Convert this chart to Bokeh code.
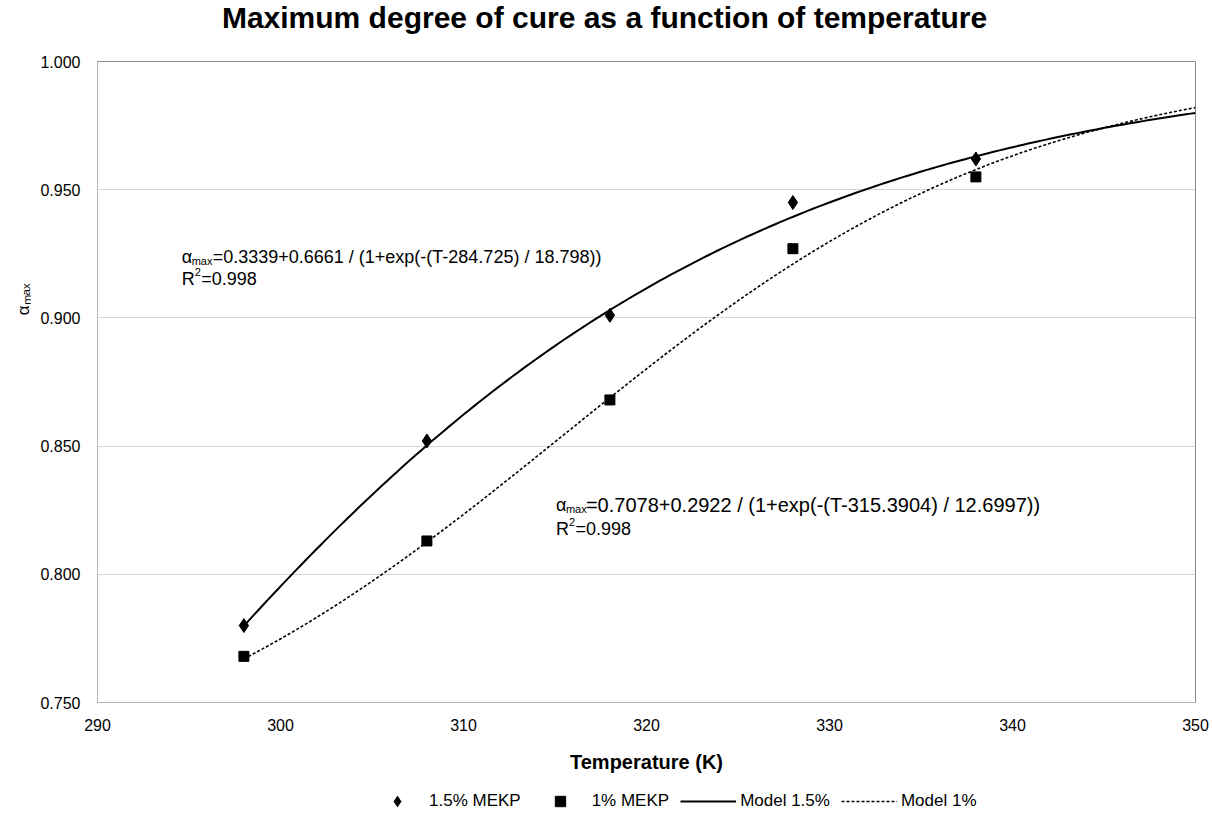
import numpy as np
from bokeh.plotting import figure
from bokeh.layouts import column
from bokeh.models import (Label, Legend, LegendItem, NumeralTickFormatter,
                          FixedTicker, Range1d, ColumnDataSource, Title)
from bokeh.embed import file_html
from bokeh.resources import INLINE

# ---- data ----
temperature = [298, 308, 318, 328, 338]
alpha_15 = [0.780, 0.852, 0.901, 0.945, 0.962]   # 1.5% MEKP
alpha_10 = [0.768, 0.813, 0.868, 0.927, 0.955]   # 1% MEKP

# fitted model parameters printed on the chart: a + b / (1 + exp(-(T - c) / d))
model_15 = [0.3339, 0.6661, 284.725, 18.798]
model_10 = [0.7078, 0.2922, 315.3904, 12.6997]
model_T_span = [298, 350]

x_ticks = [290, 300, 310, 320, 330, 340, 350]
y_ticks = [0.75, 0.80, 0.85, 0.90, 0.95, 1.00]

series_labels = ["1.5% MEKP", "1% MEKP", "Model 1.5%", "Model 1%"]
title_text = "Maximum degree of cure as a function of temperature"
y_label = "\u03b1\u2098\u2090\u2093"
eq_15 = "=0.3339+0.6661 / (1+exp(-(T-284.725) / 18.798))"
eq_10 = "=0.7078+0.2922 / (1+exp(-(T-315.3904) / 12.6997))"
r2_text = "=0.998"

FONT = "Liberation Sans"
W = 1212
H_TITLE, H_MAIN, H_LEG = 40, 740, 35
B_LEFT, B_RIGHT = 97, 17


def model(T, p):
    a, b, c, d = p
    return a + b / (1.0 + np.exp(-(T - c) / d))


T_fine = np.linspace(model_T_span[0], model_T_span[1], 200)
src_pts = ColumnDataSource(dict(T=temperature, a15=alpha_15, a10=alpha_10))
src_mod = ColumnDataSource(dict(T=T_fine, m15=model(T_fine, model_15),
                                m10=model(T_fine, model_10)))


def strip_fig(h, y0=0):
    # x coordinates equal page pixels; no axes, no grid, no title
    f = figure(width=W, height=h, output_backend="svg", toolbar_location=None,
               title=None,
               x_range=Range1d(B_LEFT, W - B_RIGHT), y_range=Range1d(y0, y0 + h),
               x_axis_location=None, y_axis_location=None,
               min_border_left=B_LEFT, min_border_right=B_RIGHT,
               min_border_top=0, min_border_bottom=0)
    f.grid.visible = False
    f.outline_line_color = None
    f.background_fill_color = "white"
    f.border_fill_color = "white"
    return f


# ---------- title strip ----------
pt = strip_fig(H_TITLE)
pt.add_layout(Label(x=604, y=23, text=title_text, text_font=FONT,
                    text_font_size="30px", text_font_style="bold",
                    text_color="black", text_align="center",
                    text_baseline="alphabetic"))

# ---------- main chart ----------
p = figure(width=W, height=H_MAIN, output_backend="svg", toolbar_location=None,
           title=None,
           x_range=Range1d(x_ticks[0], x_ticks[-1]),
           y_range=Range1d(y_ticks[0], y_ticks[-1]),
           min_border_left=B_LEFT, min_border_right=B_RIGHT,
           min_border_top=21, min_border_bottom=78)
p.background_fill_color = "white"
p.border_fill_color = "white"
p.outline_line_color = "#8c8c8c"
p.outline_line_width = 1

p.xaxis.ticker = FixedTicker(ticks=x_ticks)
p.yaxis.ticker = FixedTicker(ticks=y_ticks)
p.yaxis.formatter = NumeralTickFormatter(format="0.000")
for ax in (p.xaxis, p.yaxis):
    ax.major_tick_line_color = None
    ax.minor_tick_line_color = None
    ax.major_tick_out = 0
    ax.major_tick_in = 0
    ax.major_label_text_font = FONT
    ax.major_label_text_font_size = "16px"
    ax.major_label_text_color = "black"
    ax.axis_line_color = "#b5b5b5"
p.yaxis.major_label_standoff = 17
p.xaxis.major_label_standoff = 16
p.xaxis.axis_label = "Temperature (K)"
p.xaxis.axis_label_text_font = FONT
p.xaxis.axis_label_text_font_size = "20px"
p.xaxis.axis_label_text_font_style = "bold"
p.xaxis.axis_label_text_color = "black"
p.xaxis.axis_label_standoff = 17

ytitle = Title(text=y_label, text_font=FONT, text_font_size="17px",
               text_font_style="normal", text_color="black",
               align="right", offset=222, standoff=10)
p.add_layout(ytitle, "left")

p.xgrid.grid_line_color = None
p.ygrid.grid_line_color = "#d4d4d4"
p.ygrid.grid_line_width = 1

STY_M15 = dict(line_color="black", line_width=2)
STY_M10 = dict(line_color="black", line_width=1.6, line_dash="3 2")
STY_P15 = dict(marker="diamond", size=14, fill_color="black",
               line_color="black")
STY_P10 = dict(marker="square", size=10, fill_color="black",
               line_color="black")

p.line("T", "m15", source=src_mod, **STY_M15)
p.line("T", "m10", source=src_mod, **STY_M10)
p.scatter("T", "a15", source=src_pts, **STY_P15)
p.scatter("T", "a10", source=src_pts, **STY_P10)


def lab(x, y, text, xo=0, yo=0, size="18px"):
    p.add_layout(Label(x=x, y=y, x_offset=xo, y_offset=yo, text=text,
                       text_font=FONT, text_font_size=size,
                       text_color="black", text_align="left",
                       text_baseline="alphabetic"))


# equation for 1.5% MEKP
ax1, ay1 = 294.6, 0.9236
lab(ax1, ay1, "\u03b1", xo=0)
lab(ax1, ay1, "max", xo=10, yo=-4, size="11px")
lab(ax1, ay1, eq_15, xo=31)
lab(ax1, ay1, "R", xo=0, yo=-22)
lab(ax1, ay1, "2", xo=13, yo=-15, size="11px")
lab(ax1, ay1, r2_text, xo=19.5, yo=-22)

# equation for 1% MEKP
ax2, ay2 = 315.05, 0.8272
lab(ax2, ay2, "\u03b1", xo=0)
lab(ax2, ay2, "max", xo=10, yo=-4, size="11px")
lab(ax2, ay2, eq_10, xo=30, size="20px")
lab(ax2, ay2, "R", xo=0, yo=-24)
lab(ax2, ay2, "2", xo=13, yo=-17, size="11px")
lab(ax2, ay2, r2_text, xo=19.5, yo=-24)

# ---------- legend strip ----------
# the series are drawn here too, but outside this strip's visible y window,
# so only their legend glyphs show
pl = strip_fig(H_LEG, y0=100)
g15 = pl.scatter("T", "a15", source=src_pts, **STY_P15)
g10 = pl.scatter("T", "a10", source=src_pts, **STY_P10)
gm15 = pl.line("T", "m15", source=src_mod, **STY_M15)
gm10 = pl.line("T", "m10", source=src_mod, **STY_M10)
legend = Legend(items=[
    LegendItem(label=series_labels[0], renderers=[g15]),
    LegendItem(label=series_labels[1], renderers=[g10]),
    LegendItem(label=series_labels[2], renderers=[gm15]),
    LegendItem(label=series_labels[3], renderers=[gm10]),
], orientation="horizontal", location=(272, 1))
legend.glyph_width = 56
legend.glyph_height = 26
legend.label_height = 20
legend.label_standoff = 4
legend.spacing = 11
legend.padding = 4
legend.margin = 0
legend.border_line_color = None
legend.background_fill_alpha = 0
legend.label_text_font = FONT
legend.label_text_font_size = "17px"
legend.label_text_color = "black"
pl.add_layout(legend)

layout = column(pt, p, pl, spacing=0)
open("out.html", "w").write(file_html(layout, INLINE))
